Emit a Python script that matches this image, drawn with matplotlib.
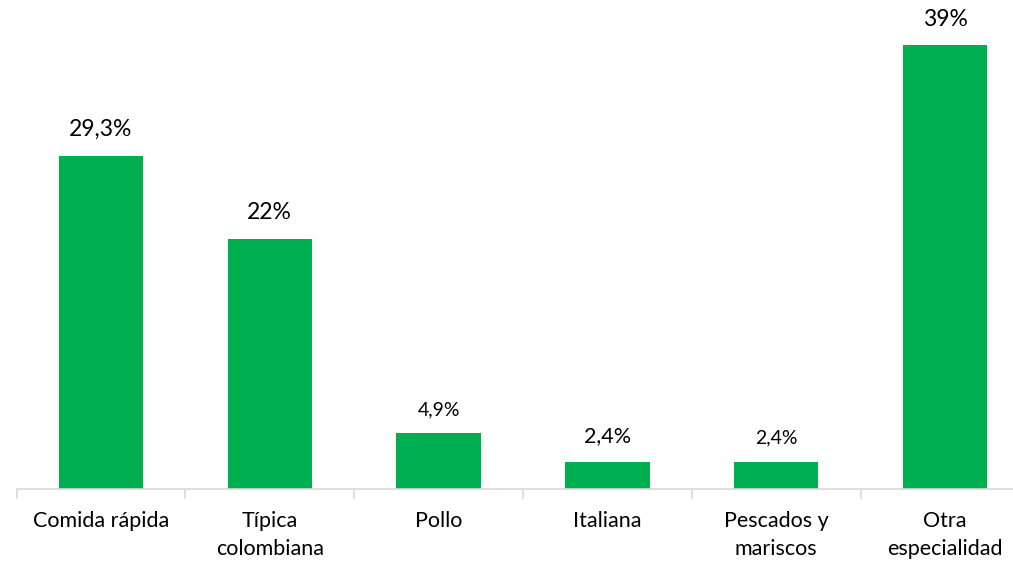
import matplotlib
matplotlib.use('Agg')
import numpy as np
from matplotlib import pyplot as plt

# Data
categories = ['Comida rápida', 'Típica\ncolombiana', 'Pollo', 'Italiana',
              'Pescados y\nmariscos', 'Otra\nespecialidad']
values = [29.3, 22.0, 4.9, 2.4, 2.4, 39.0]
value_labels = ['29,3%', '22%', '4,9%', '2,4%', '2,4%', '39%']
label_sizes = [16.5, 16.5, 14, 15.5, 14, 16.5]

bar_color = '#00B050'
axis_color = '#D9D9D9'

W, H = 1013, 562
fig = plt.figure(figsize=(W / 100, H / 100), dpi=100)

# axes spans past the right edge (last category is clipped in the reference)
left_px, right_px, base_px = 16.6, 1029.4, 489
ax = fig.add_axes([left_px / W, (H - base_px) / H,
                   (right_px - left_px) / W, base_px / H])

x = np.arange(len(categories))
ax.bar(x, values, width=0.5, color=bar_color, zorder=2)
ax.set_xlim(-0.5, len(categories) - 0.5)
ax.set_ylim(0, base_px / 11.38)

for sp in ['top', 'right', 'left']:
    ax.spines[sp].set_visible(False)
ax.spines['bottom'].set_color(axis_color)
ax.spines['bottom'].set_linewidth(1.2)
ax.set_yticks([])

# category boundary tick marks
ax.set_xticks(np.arange(len(categories) + 1) - 0.5, minor=False)
ax.set_xticklabels([])
ax.tick_params(axis='x', which='major', length=7, width=1.2, color=axis_color)

for xi, cat in zip(x, categories):
    ax.text(xi, -1.95, cat, ha='center', va='top', fontsize=15.5,
            family='Lato', color='#000000', linespacing=1.5, clip_on=False)

for xi, v, lab, fs in zip(x, values, value_labels, label_sizes):
    ax.annotate(lab, (xi, v), xytext=(0, 11), textcoords='offset points',
                ha='center', va='bottom', fontsize=fs, family='Lato',
                color='#000000')

fig.savefig('out.png', dpi=100)
